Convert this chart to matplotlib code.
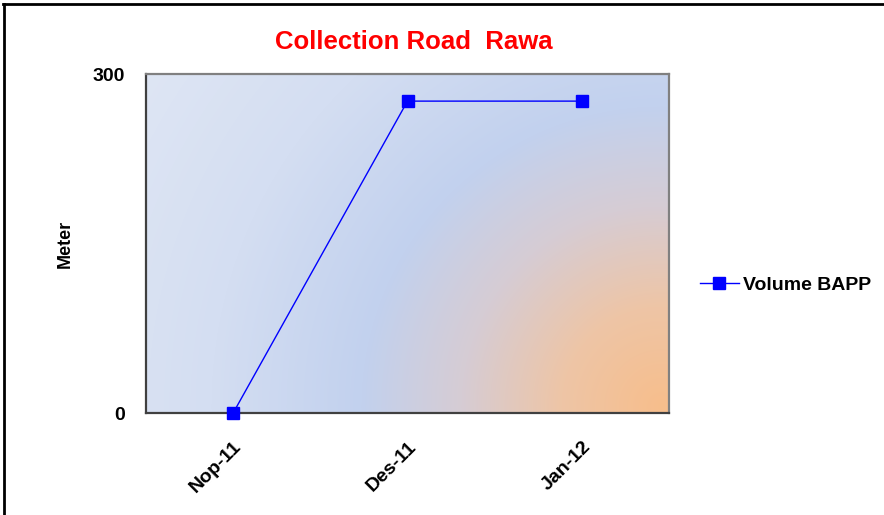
import numpy as np
import matplotlib.pyplot as plt
from matplotlib.lines import Line2D

plt.rcParams['font.family'] = ['Liberation Sans', 'DejaVu Sans']

months = ['Nop-11', 'Des-11', 'Jan-12']
volume = [0, 276, 276]
yticks = [0, 300]

fig = plt.figure(figsize=(8.84, 5.15), dpi=100)
ax = fig.add_axes([146 / 884, 1 - 413 / 515, 523 / 884, 339 / 515])

# radial background gradient (orange in lower right, blue ring, light outside)
h, w = 339, 523
yy, xx = np.mgrid[0:h, 0:w]
d = np.hypot(xx - 515, yy - 332)
stops = [0, 100, 200, 300, 450, 640]
cols = np.array([
    (247, 190, 140),
    (238, 197, 166),
    (214, 204, 212),
    (194, 209, 238),
    (212, 222, 242),
    (224, 231, 244),
]) / 255.0
img = np.stack([np.interp(d, stops, cols[:, i]) for i in range(3)], axis=-1)
ax.imshow(img, extent=(-0.5, 2.5, 0, 300), aspect='auto', zorder=0,
          interpolation='bilinear')

x = np.arange(len(months))
ax.plot(x, volume, color='#0000FF', linewidth=1, marker='s', markersize=8.5,
        zorder=3, clip_on=False, label='Volume BAPP')

ax.set_xlim(-0.5, 2.5)
ax.set_ylim(0, 300)
ax.set_xticks(x)
ax.set_xticklabels(months, rotation=45, ha='right', rotation_mode='anchor',
                   fontsize=14, fontweight='bold')
ax.set_yticks(yticks)
ax.set_yticklabels([str(v) for v in yticks], fontsize=14, fontweight='bold')
ax.tick_params(length=0)
ax.tick_params(axis='y', pad=15)
ax.tick_params(axis='x', pad=18)
ax.set_ylabel('Meter', fontsize=13, fontweight='bold', labelpad=14)

for side in ['left', 'bottom']:
    ax.spines[side].set_color('#404040')
    ax.spines[side].set_linewidth(1.6)
for side in ['top', 'right']:
    ax.spines[side].set_color('#808080')
    ax.spines[side].set_linewidth(1.6)

fig.text(0.468, 0.918, 'Collection Road  Rawa', color='#FF0000', fontsize=18.5,
         fontweight='bold', ha='center', va='center')

handle = Line2D([], [], color='#0000FF', linewidth=1, marker='s', markersize=8.5)
fig.legend([handle], ['Volume BAPP'], loc='center left',
           bbox_to_anchor=(692 / 884, 1 - 285 / 515), frameon=False,
           prop={'size': 14, 'weight': 'bold'}, handlelength=2.0,
           handletextpad=0.2, borderaxespad=0)

# outer chart frame (top and left edges visible)
fig.add_artist(Line2D([3 / 884, 1], [1 - 4 / 515, 1 - 4 / 515],
                      color='black', linewidth=2, transform=fig.transFigure))
fig.add_artist(Line2D([4 / 884, 4 / 884], [0, 1 - 4 / 515],
                      color='black', linewidth=2, transform=fig.transFigure))

fig.savefig('out.png', dpi=100)
